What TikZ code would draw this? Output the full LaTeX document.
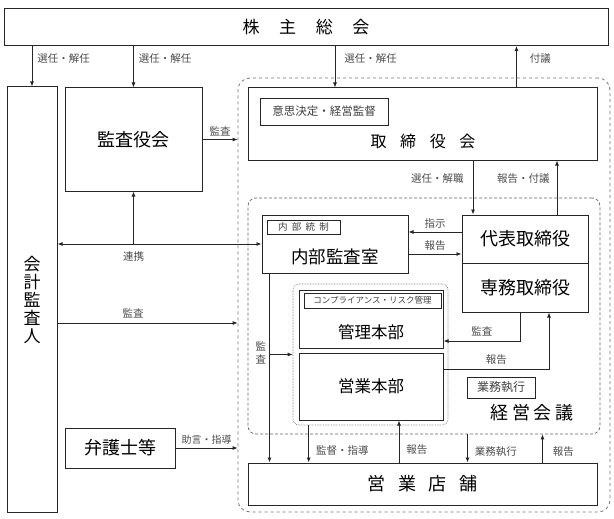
\documentclass[tikz,border=0pt]{standalone}
\usepackage{fontspec}
\setmainfont{Noto Sans CJK JP}
\usetikzlibrary{arrows.meta}
\tikzset{
  box/.style={shape=rectangle, draw=black!85, line width=1pt, inner sep=0pt},
  tag/.style={shape=rectangle, draw=black!85, line width=0.8pt, inner sep=0pt, text=black!75},
  lbl/.style={inner sep=1pt, text=black!70, font=\fontsize{10.5}{12}\selectfont},
  arr/.style={draw=black!85, line width=0.8pt, ->},
  outerframe/.style={shape=rectangle, draw=black!55, line width=0.8pt, dashed, rounded corners=12pt, inner sep=0pt},
  innerframe/.style={shape=rectangle, draw=black!60, line width=0.7pt, densely dashed, rounded corners=8pt, inner sep=0pt},
  groupframe/.style={shape=rectangle, draw=black!60, line width=0.6pt, densely dotted, rounded corners=6pt, inner sep=0pt},
}
\begin{document}
\begin{tikzpicture}[x=1pt, y=-1pt, >={Latex[length=5pt,width=4pt]}]
\useasboundingbox (0,0) rectangle (614,519);
\node[box, minimum width=604, minimum height=37, font=\fontsize{17}{17}\selectfont] (soukai) at (306,27) {株\hspace{1.15em}主\hspace{1.15em}総\hspace{1.15em}会};
\node[box, minimum width=50, minimum height=425, align=center, font=\fontsize{17}{18}\selectfont] (kaikei) at (32,299.5) {会\\計\\監\\査\\人};
\node[box, minimum width=137, minimum height=103, font=\fontsize{18}{18}\selectfont] (kansayaku) at (133.5,139.5) {監査役会};
\node[outerframe, minimum width=372, minimum height=434] (gov) at (424,295) {};
\node[box, minimum width=349, minimum height=72] (torishimari) at (422.5,124) {};
\node[tag, minimum width=128, minimum height=27, font=\fontsize{11.5}{12}\selectfont] (kettei) at (324,111.5) {意思決定・経営監督};
\node[font=\fontsize{16}{16}\selectfont] (torishimari-t) at (423,141) {取\hspace{0.85em}締\hspace{0.85em}役\hspace{0.85em}会};
\node[innerframe, minimum width=352, minimum height=236] (keiei) at (424,316) {};
\node[box, minimum width=146, minimum height=58] (naibu) at (335,244) {};
\node[tag, minimum width=73, minimum height=14, font=\fontsize{9.5}{10}\selectfont] (tousei) at (303.5,227) {内\hspace{0.45em}部\hspace{0.45em}統\hspace{0.45em}制};
\node[font=\fontsize{17.5}{18}\selectfont] (naibu-t) at (335,257) {内部監査室};
\node[box, minimum width=126, minimum height=48, font=\fontsize{18}{18}\selectfont] (daihyo) at (525,239) {代表取締役};
\node[box, minimum width=126, minimum height=49, font=\fontsize{18}{18}\selectfont] (senmu) at (525,287.5) {専務取締役};
\node[groupframe, minimum width=155, minimum height=141] (honbu) at (370.5,354.5) {};
\node[box, minimum width=144, minimum height=58] (kanri) at (371,319) {};
\node[tag, minimum width=137, minimum height=15, font=\fontsize{8.5}{9}\selectfont] (risk) at (372.5,300.5) {コンプライアンス・リスク管理};
\node[font=\fontsize{16.5}{17}\selectfont] (kanri-t) at (371,332) {管理本部};
\node[box, minimum width=144, minimum height=67, font=\fontsize{16.5}{17}\selectfont] (eigyo) at (371,386.5) {営業本部};
\node[tag, minimum width=68, minimum height=21, font=\fontsize{12}{12}\selectfont] (gyomu) at (501,387.5) {業務執行};
\node[font=\fontsize{18}{18}\selectfont] (keiei-t) at (532,413) {経\hspace{0.2em}営\hspace{0.2em}会\hspace{0.2em}議};
\node[box, minimum width=110, minimum height=40, font=\fontsize{18}{18}\selectfont] (bengoshi) at (120,448) {弁護士等};
\node[box, minimum width=349, minimum height=42, font=\fontsize{18}{18}\selectfont] (tenpo) at (422.5,484) {営\hspace{0.7em}業\hspace{0.7em}店\hspace{0.7em}舗};
\coordinate (audit) at ([xshift=8pt]naibu.south west);
\draw[arr] (soukai.south -| kaikei.north) -- node[lbl, right=4pt, pos=.3] {選任・解任} (kaikei.north);
\draw[arr] (soukai.south -| kansayaku.north) -- node[lbl, right=4pt, pos=.3] {選任・解任} (kansayaku.north);
\draw[arr] (soukai.south -| naibu.north) -- node[lbl, right=8pt, pos=.3] {選任・解任} (torishimari.north -| naibu.north);
\draw[arr] ([xshift=94pt]torishimari.north) -- node[lbl, right=12pt, pos=.7] {付議} ([xshift=94pt]torishimari.north |- soukai.south);
\draw[arr] (kansayaku.east) -- node[lbl, above=2pt] {監査} (kansayaku.east -| gov.west);
\draw[arr, <->] (kaikei.east |- naibu.west) -- (naibu.west);
\draw[arr] (kansayaku.south |- naibu.west) node[lbl, below=6pt] {連携} -- (kansayaku.south);
\draw[arr] ([yshift=-4pt]kaikei.east |- kanri.west) -- node[lbl, above=3pt, pos=.42] {監査} ([yshift=-4pt]gov.west |- kanri.west);
\draw[arr] (bengoshi.east) -- node[lbl, above=2pt, font=\fontsize{10}{12}\selectfont] {助言・指導} (bengoshi.east -| gov.west);
\draw[arr] ([xshift=-52pt]daihyo.north |- torishimari.south) -- node[lbl, left=8pt, pos=.33] {選任・解職} ([xshift=-52pt]daihyo.north);
\draw[arr] ([xshift=32pt]daihyo.north) -- node[lbl, left=6pt, pos=.67] {報告・付議} ([xshift=32pt]daihyo.north |- torishimari.south);
\draw[arr] ([yshift=7pt]daihyo.west) -- node[lbl, above=2pt] {指示} ([yshift=7pt]daihyo.west -| naibu.east);
\draw[arr] ([yshift=-10pt]naibu.east) -- node[lbl, above=2pt] {報告} ([yshift=-10pt]naibu.east -| daihyo.west);
\draw[arr] ([xshift=-5pt]senmu.south) |- node[lbl, above=3pt, pos=.75] {監査} ([yshift=-22pt]kanri.east);
\draw[arr] ([yshift=17.5pt]eigyo.east) -| node[lbl, above=3pt, pos=.25] {報告} ([xshift=24pt]senmu.south);
\draw[arr] (audit) -- node[lbl, left=2pt, pos=.42, align=center, font=\fontsize{10.5}{13}\selectfont] {監\\査} (audit |- tenpo.north);
\draw[arr] (audit |- honbu.west) -- (honbu.west);
\draw[arr] ([xshift=16pt]honbu.south west) -- node[lbl, right=6pt, pos=.68] {監督・指導} ([xshift=16pt]honbu.south west |- tenpo.north);
\draw[arr] ([xshift=28pt]eigyo.south |- tenpo.north) -- node[lbl, right=6pt, pos=.32] {報告} ([xshift=28pt]eigyo.south);
\draw[arr] ([xshift=45pt]tenpo.north |- keiei.south) -- node[lbl, right=6pt, pos=.6] {業務執行} ([xshift=45pt]tenpo.north);
\draw[arr] ([xshift=120pt]tenpo.north) -- node[lbl, right=9pt, pos=.4] {報告} ([xshift=120pt]tenpo.north |- keiei.south);
\end{tikzpicture}
\end{document}
